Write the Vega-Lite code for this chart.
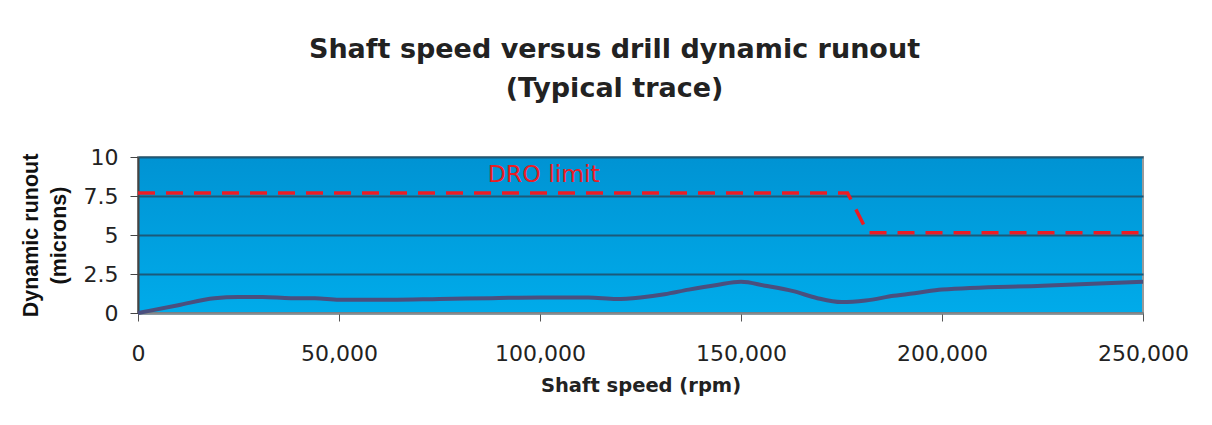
{
  "$schema": "https://vega.github.io/schema/vega-lite/v6.json",
  "width": 1005,
  "height": 156,
  "autosize": {"type": "none"},
  "padding": {"left": 138, "top": 157, "right": 69, "bottom": 112},
  "background": "white",
  "view": {
    "fill": {"gradient": "linear", "x1": 0, "y1": 0, "x2": 0, "y2": 1, "stops": [{"offset": 0, "color": "#0093d3"}, {"offset": 1, "color": "#00abea"}]},
    "stroke": "#9a9a9a",
    "strokeWidth": 2
  },
  "title": {
    "text": ["Shaft speed versus drill dynamic runout", "(Typical trace)"],
    "font": "DejaVu Sans",
    "fontSize": 27,
    "fontWeight": "bold",
    "lineHeight": 39,
    "color": "#222222",
    "anchor": "middle",
    "frame": "group",
    "baseline": "bottom",
    "offset": 16,
    "dx": -26
  },
  "datasets": {
    "trace": [
      {"speed": 0, "runout": 0},
      {"speed": 10000, "runout": 0.5},
      {"speed": 19000, "runout": 0.95},
      {"speed": 25000, "runout": 1.03},
      {"speed": 31000, "runout": 1.03},
      {"speed": 38000, "runout": 0.95},
      {"speed": 44000, "runout": 0.95},
      {"speed": 50000, "runout": 0.85},
      {"speed": 63000, "runout": 0.85},
      {"speed": 75000, "runout": 0.9},
      {"speed": 88000, "runout": 0.95},
      {"speed": 100000, "runout": 1.0},
      {"speed": 112000, "runout": 1.0},
      {"speed": 119000, "runout": 0.9},
      {"speed": 125000, "runout": 1.0},
      {"speed": 131000, "runout": 1.2},
      {"speed": 137000, "runout": 1.5},
      {"speed": 144000, "runout": 1.8},
      {"speed": 150000, "runout": 2.0},
      {"speed": 156000, "runout": 1.75},
      {"speed": 163000, "runout": 1.4},
      {"speed": 169000, "runout": 0.95},
      {"speed": 175000, "runout": 0.7},
      {"speed": 181000, "runout": 0.8},
      {"speed": 188000, "runout": 1.1},
      {"speed": 194000, "runout": 1.3},
      {"speed": 200000, "runout": 1.5},
      {"speed": 225000, "runout": 1.75},
      {"speed": 250000, "runout": 2.0}
    ],
    "limit": [
      {"speed": 0, "runout": 7.7},
      {"speed": 176500, "runout": 7.7},
      {"speed": 181500, "runout": 5.15},
      {"speed": 250000, "runout": 5.15}
    ],
    "label": [
      {"speed": 87000, "runout": 8.85, "text": "DRO limit"}
    ]
  },
  "encoding": {
    "x": {
      "field": "speed", "type": "quantitative",
      "scale": {"domain": [0, 250000], "nice": false},
      "axis": {
        "values": [0, 50000, 100000, 150000, 200000, 250000],
        "labelExpr": "format(datum.value, ',.0f')",
        "grid": false,
        "title": "Shaft speed (rpm)",
        "titleFont": "DejaVu Sans",
        "titleFontSize": 19.5,
        "titleFontWeight": "bold",
        "titleColor": "#222222",
        "titleBaseline": "alphabetic",
        "titleY": 78,
        "labelFont": "DejaVu Sans",
        "labelFontSize": 22,
        "labelColor": "#222222",
        "labelPadding": 22,
        "labelFlush": false,
        "labelOverlap": false,
        "tickSize": 8,
        "tickColor": "#555555",
        "domainColor": "#8a8a8a",
        "domainWidth": 2
      }
    },
    "y": {
      "field": "runout", "type": "quantitative",
      "scale": {"domain": [0, 10], "nice": false},
      "axis": {
        "values": [0, 2.5, 5, 7.5, 10],
        "labelExpr": "'' + datum.value",
        "grid": true,
        "gridColor": "#1b5a7a",
        "gridWidth": 2,
        "title": ["Dynamic runout", "(microns)"],
        "titleFont": "Liberation Sans",
        "titleFontSize": 21.5,
        "titleFontWeight": "bold",
        "titleColor": "#111111",
        "titleLineHeight": 28,
        "titleAngle": -90,
        "titleBaseline": "alphabetic",
        "titleAlign": "center",
        "titleX": -101,
        "titleY": 78,
        "labelFont": "DejaVu Sans",
        "labelFontSize": 22,
        "labelColor": "#222222",
        "labelPadding": 12,
        "labelFlush": false,
        "labelOverlap": false,
        "tickSize": 8,
        "tickColor": "#444444",
        "domainColor": "#444444",
        "domainWidth": 2
      }
    }
  },
  "layer": [
    {
      "data": {"name": "limit"},
      "mark": {"type": "line", "color": "#ec1c24", "strokeWidth": 3.5, "strokeDash": [17, 11], "clip": false}
    },
    {
      "data": {"name": "trace"},
      "mark": {"type": "line", "color": "#4a4f7e", "strokeWidth": 4, "interpolate": "monotone"}
    },
    {
      "data": {"name": "label"},
      "mark": {"type": "text", "color": "#ec1c24", "font": "DejaVu Sans", "fontSize": 23.5, "align": "left", "baseline": "middle"},
      "encoding": {
        "text": {"field": "text"}
      }
    }
  ]
}
